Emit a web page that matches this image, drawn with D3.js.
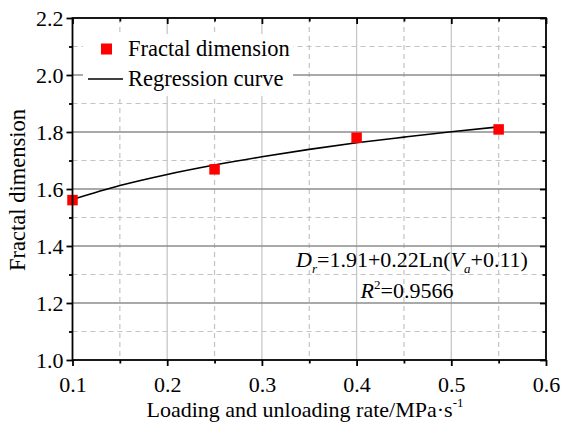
<!DOCTYPE html>
<html><head><meta charset="utf-8">
<script src="https://cdn.jsdelivr.net/npm/d3@7"></script>
<style>body{margin:0;background:#fff}svg{display:block}text{font-family:"Liberation Serif","Times New Roman",serif;fill:#000}</style>
</head><body>
<script>
const rates = [0.1, 0.25, 0.4, 0.55];
const fractalDim = [1.561, 1.669, 1.780, 1.809];
const curveX = [0.10, 0.15, 0.20, 0.25, 0.30, 0.35, 0.40, 0.45, 0.50, 0.55];
const curveY = [1.563, 1.612, 1.651, 1.684, 1.713, 1.739, 1.762, 1.782, 1.801, 1.818];
const xTicks = [0.1, 0.2, 0.3, 0.4, 0.5, 0.6];
const yTicks = [1.0, 1.2, 1.4, 1.6, 1.8, 2.0, 2.2];
const xMinor = [0.15, 0.25, 0.35, 0.45, 0.55];
const yMinor = [1.1, 1.3, 1.5, 1.7, 1.9, 2.1];

(function () {
const W = 561, H = 428;
const FONT = "'Liberation Serif','Times New Roman',serif";
const m = {l: 72.5, r: 546, t: 18, b: 360};
const svg = d3.select("body").append("svg").attr("width", W).attr("height", H).attr("font-family", FONT);
const x = d3.scaleLinear().domain([0.1, 0.6]).range([m.l, m.r]);
const y = d3.scaleLinear().domain([1.0, 2.2]).range([m.b, m.t]);

const g = svg.append("g");
g.selectAll(".hmin").data(yMinor).join("line")
  .attr("x1", m.l).attr("x2", m.r).attr("y1", d => y(d)).attr("y2", d => y(d))
  .attr("stroke", "#c4c4c4").attr("stroke-width", 1.2).attr("stroke-dasharray", "5,4");
g.selectAll(".vmin").data(xMinor).join("line")
  .attr("y1", m.t).attr("y2", m.b).attr("x1", d => x(d)).attr("x2", d => x(d))
  .attr("stroke", "#c4c4c4").attr("stroke-width", 1.2).attr("stroke-dasharray", "5,4");
g.selectAll(".vmaj").data(xTicks.slice(1, -1)).join("line")
  .attr("y1", m.t).attr("y2", m.b).attr("x1", d => x(d)).attr("x2", d => x(d))
  .attr("stroke", "#c8c8c8").attr("stroke-width", 1.3);
g.selectAll(".hmaj").data(yTicks.slice(1, -1)).join("line")
  .attr("x1", m.l).attr("x2", m.r).attr("y1", d => y(d)).attr("y2", d => y(d))
  .attr("stroke", "#8c8c8c").attr("stroke-width", 1.3);

svg.append("rect").attr("x", 83).attr("y", 34).attr("width", 210).attr("height", 62).attr("fill", "#fff");

const line = d3.line().x(d => x(d[0])).y(d => y(d[1])).curve(d3.curveMonotoneX);
svg.append("path").datum(curveX.map((v, i) => [v, curveY[i]]))
  .attr("d", line).attr("fill", "none").attr("stroke", "#000").attr("stroke-width", 1.6);

const s = 10.5;
svg.selectAll(".pt").data(rates.map((v, i) => [v, fractalDim[i]])).join("rect")
  .attr("x", d => x(d[0]) - s / 2).attr("y", d => y(d[1]) - s / 2)
  .attr("width", s).attr("height", s).attr("fill", "#ff0000");

const axW = 1.8;
svg.append("rect").attr("x", m.l).attr("y", m.t).attr("width", m.r - m.l).attr("height", m.b - m.t)
  .attr("fill", "none").attr("stroke", "#000").attr("stroke-width", axW);
const aBottom = svg.append("g").attr("transform", `translate(0,${m.b})`)
  .call(d3.axisBottom(x).tickValues(xTicks).tickSize(6).tickFormat(d3.format(".1f")));
const aLeft = svg.append("g").attr("transform", `translate(${m.l},0)`)
  .call(d3.axisLeft(y).tickValues(yTicks).tickSize(6).tickFormat(d3.format(".1f")));
const aBottomMinor = svg.append("g").attr("transform", `translate(0,${m.b})`)
  .call(d3.axisBottom(x).tickValues(xMinor).tickSize(3.5).tickFormat(""));
const aLeftMinor = svg.append("g").attr("transform", `translate(${m.l},0)`)
  .call(d3.axisLeft(y).tickValues(yMinor).tickSize(3.5).tickFormat(""));
const aTop = svg.append("g").attr("transform", `translate(0,${m.t})`)
  .call(d3.axisBottom(x).tickValues(xTicks).tickSize(6).tickFormat(""));
const aTopMinor = svg.append("g").attr("transform", `translate(0,${m.t})`)
  .call(d3.axisBottom(x).tickValues(xMinor).tickSize(3.5).tickFormat(""));
const aRight = svg.append("g").attr("transform", `translate(${m.r},0)`)
  .call(d3.axisLeft(y).tickValues(yTicks).tickSize(6).tickFormat(""));
const aRightMinor = svg.append("g").attr("transform", `translate(${m.r},0)`)
  .call(d3.axisLeft(y).tickValues(yMinor).tickSize(3.5).tickFormat(""));
[aBottom, aLeft, aBottomMinor, aLeftMinor, aTop, aTopMinor, aRight, aRightMinor].forEach(a => {
  a.attr("font-family", FONT).attr("font-size", 22);
  a.select(".domain").remove();
  a.selectAll("line").attr("stroke", "#000").attr("stroke-width", axW);
  a.selectAll("text").attr("fill", "#000");
});
aBottom.selectAll("text").attr("dy", null).attr("y", 31.5);
aLeft.selectAll("text").attr("x", -9).attr("dy", "0.33em");

svg.append("rect").attr("x", 101).attr("y", 43.5).attr("width", 11).attr("height", 11).attr("fill", "#ff0000");
svg.append("text").attr("x", 128).attr("y", 56).attr("font-size", 22.5).text("Fractal dimension");
svg.append("line").attr("x1", 88).attr("x2", 123).attr("y1", 79).attr("y2", 79).attr("stroke", "#000").attr("stroke-width", 1.6);
svg.append("text").attr("x", 128).attr("y", 86).attr("font-size", 22.5).text("Regression curve");

const eq = svg.append("text").attr("x", 412).attr("y", 267).attr("font-size", 22).attr("text-anchor", "middle");
eq.append("tspan").attr("font-style", "italic").text("D");
eq.append("tspan").attr("font-size", 13).attr("font-style", "italic").attr("dy", 6).text("r");
eq.append("tspan").attr("dy", -6).text("=1.91+0.22Ln(");
eq.append("tspan").attr("font-style", "italic").text("V");
eq.append("tspan").attr("font-size", 13).attr("font-style", "italic").attr("dy", 6).text("a");
eq.append("tspan").attr("dy", -6).text("+0.11)");
const r2 = svg.append("text").attr("x", 407).attr("y", 298).attr("font-size", 22).attr("text-anchor", "middle");
r2.append("tspan").attr("font-style", "italic").text("R");
r2.append("tspan").attr("font-size", 13).attr("dy", -9).text("2");
r2.append("tspan").attr("dy", 9).text("=0.9566");

const xt = svg.append("text").attr("x", 305).attr("y", 417).attr("font-size", 22).attr("text-anchor", "middle");
xt.append("tspan").text("Loading and unloading rate/MPa·s");
xt.append("tspan").attr("font-size", 13).attr("dy", -10).text("-1");
svg.append("text").attr("transform", "translate(25,190) rotate(-90)").attr("font-size", 22.5)
  .attr("text-anchor", "middle").text("Fractal dimension");
})();
</script>
</body></html>
